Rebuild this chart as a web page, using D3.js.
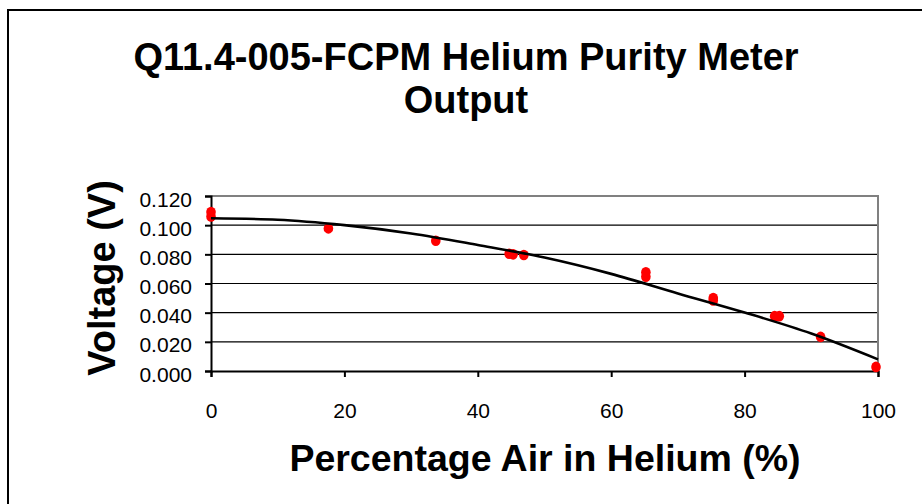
<!DOCTYPE html>
<html>
<head>
<meta charset="utf-8">
<script src="https://cdn.jsdelivr.net/npm/d3@7"></script>
<style>
  body { margin: 0; background: #fff; }
  svg { display: block; }
</style>
</head>
<body>
<script>
// measured points (percent air, volts)
const airPct  = [0, 0, 17.6, 33.7, 44.7, 45.3, 46.9, 65.2, 65.2, 75.3, 75.3, 84.5, 85.2, 91.4, 99.7];
const voltage = [0.109, 0.106, 0.0978, 0.0893, 0.0804, 0.0800, 0.0795, 0.0677, 0.0647, 0.0500, 0.0483, 0.0376, 0.0376, 0.0234, 0.0028];

// trendline
const trendPct = [0, 10, 20, 30, 40, 50, 60, 70, 80, 90, 100];
const trendV   = [0.1047, 0.1037, 0.1000, 0.0943, 0.0864, 0.0778, 0.0666, 0.0532, 0.0401, 0.0257, 0.0080];

const xTicks = [0, 20, 40, 60, 80, 100];
const yTicks = [0, 0.02, 0.04, 0.06, 0.08, 0.10, 0.12];

const titleLines = ['Q11.4-005-FCPM Helium Purity Meter', 'Output'];

let width = 922, height = 504;
let plot = { left: 211, right: 878, top: 196, bottom: 371 };
let font = 'Liberation Sans, Arial, sans-serif';

let svg = d3.select('body')
    .append('svg')
    .attr('width', width)
    .attr('height', height);

// chart frame (runs off the right/bottom edge)
svg.append('rect')
    .attr('x', 8).attr('y', 10)
    .attr('width', 940).attr('height', 520)
    .attr('fill', 'white')
    .attr('stroke', 'black')
    .attr('stroke-width', 2);

let xScale = d3.scaleLinear().domain([0, 100]).range([plot.left, plot.right]);
let yScale = d3.scaleLinear().domain([0, 0.12]).range([plot.bottom, plot.top]);

// gridlines
svg.append('g')
    .selectAll('line')
    .data(yTicks.filter(d => d > 0 && d < 0.12))
    .enter()
    .append('line')
    .attr('x1', plot.left).attr('x2', plot.right)
    .attr('y1', d => yScale(d)).attr('y2', d => yScale(d))
    .attr('stroke', 'black')
    .attr('stroke-width', 1.2);

// plot area border top/right (grey)
svg.append('path')
    .attr('d', `M${plot.left},${plot.top}H${plot.right}V${plot.bottom}`)
    .attr('fill', 'none')
    .attr('stroke', '#808080')
    .attr('stroke-width', 2);

let xAxis = d3.axisBottom(xScale).tickValues(xTicks).tickSize(6).tickPadding(26).tickFormat(d3.format('d'));
let yAxis = d3.axisLeft(yScale).tickValues(yTicks).tickSize(6).tickPadding(13).tickFormat(d3.format('.3f'));

let gx = svg.append('g')
    .attr('transform', `translate(0,${plot.bottom})`)
    .call(xAxis);
let gy = svg.append('g')
    .attr('transform', `translate(${plot.left},0)`)
    .call(yAxis);

[gx, gy].forEach(g => {
    g.select('.domain').attr('stroke', 'black').attr('stroke-width', 2);
    g.selectAll('.tick line').attr('stroke', 'black').attr('stroke-width', 2);
    g.selectAll('.tick text')
        .attr('fill', 'black')
        .style('font-family', font)
        .style('font-size', '21px');
});
gy.selectAll('.tick text').attr('dy', '0.48em');

// points
svg.append('g')
    .selectAll('ellipse')
    .data(airPct.map((d, i) => [d, voltage[i]]))
    .enter()
    .append('ellipse')
    .attr('cx', d => xScale(d[0]))
    .attr('cy', d => yScale(d[1]))
    .attr('rx', 4.8)
    .attr('ry', 5.3)
    .attr('fill', 'red');

// trendline
let line = d3.line()
    .x(d => xScale(d[0]))
    .y(d => yScale(d[1]))
    .curve(d3.curveMonotoneX);

svg.append('path')
    .datum(trendPct.map((d, i) => [d, trendV[i]]))
    .attr('d', line)
    .attr('fill', 'none')
    .attr('stroke', 'black')
    .attr('stroke-width', 2.6);

// title
svg.append('text')
    .attr('text-anchor', 'middle')
    .style('font-family', font)
    .style('font-weight', 'bold')
    .style('font-size', '38px')
    .selectAll('tspan')
    .data(titleLines)
    .enter()
    .append('tspan')
    .attr('x', 466)
    .attr('y', (d, i) => 70 + i * 43)
    .text(d => d);

// axis titles
svg.append('text')
    .attr('x', 545).attr('y', 471)
    .attr('text-anchor', 'middle')
    .style('font-family', font)
    .style('font-weight', 'bold')
    .style('font-size', '37.5px')
    .text('Percentage Air in Helium (%)');

svg.append('text')
    .attr('transform', 'translate(115,278) rotate(-90)')
    .attr('text-anchor', 'middle')
    .style('font-family', font)
    .style('font-weight', 'bold')
    .style('font-size', '38px')
    .text('Voltage (V)');
</script>
</body>
</html>
